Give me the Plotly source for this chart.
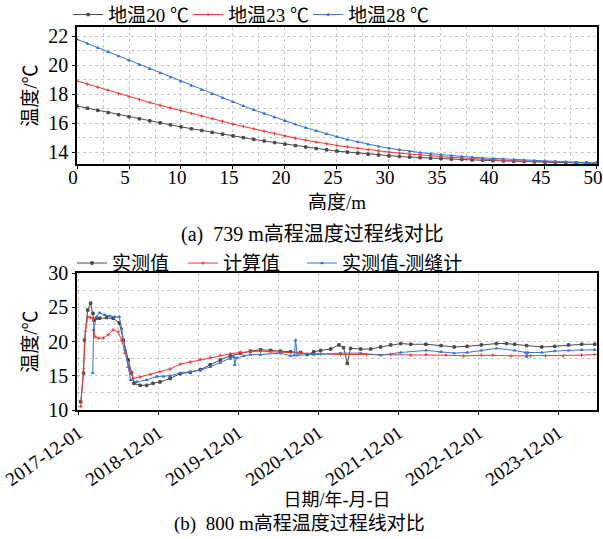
import plotly.graph_objects as go

# ---------------- Top chart data (a) ----------------
height_m = list(range(0, 51))
t20 = [17.20, 17.05, 16.90, 16.75, 16.60, 16.46, 16.32, 16.18, 16.04, 15.90,
       15.76, 15.63, 15.51, 15.38, 15.26, 15.14, 15.02, 14.90, 14.79, 14.68,
       14.57, 14.47, 14.37, 14.27, 14.18, 14.09, 14.02, 13.95, 13.88, 13.82,
       13.76, 13.72, 13.68, 13.64, 13.60, 13.57, 13.54, 13.51, 13.48, 13.46,
       13.43, 13.41, 13.39, 13.37, 13.35, 13.33, 13.31, 13.29, 13.28, 13.27, 13.26]
t23 = [18.93, 18.71, 18.49, 18.27, 18.05, 17.84, 17.64, 17.44, 17.25, 17.06,
       16.87, 16.68, 16.50, 16.32, 16.14, 15.96, 15.79, 15.62, 15.45, 15.29,
       15.13, 14.98, 14.84, 14.71, 14.59, 14.48, 14.38, 14.28, 14.19, 14.10,
       14.02, 13.95, 13.88, 13.82, 13.76, 13.71, 13.66, 13.61, 13.57, 13.53,
       13.49, 13.46, 13.43, 13.40, 13.37, 13.35, 13.33, 13.31, 13.29, 13.27, 13.26]
t28 = [21.80, 21.51, 21.22, 20.93, 20.64, 20.35, 20.06, 19.77, 19.48, 19.19,
       18.90, 18.61, 18.32, 18.04, 17.76, 17.48, 17.21, 16.94, 16.68, 16.43,
       16.18, 15.94, 15.71, 15.49, 15.28, 15.08, 14.89, 14.72, 14.56, 14.42,
       14.29, 14.18, 14.08, 13.99, 13.91, 13.84, 13.78, 13.72, 13.67, 13.62,
       13.58, 13.54, 13.50, 13.47, 13.44, 13.41, 13.38, 13.35, 13.32, 13.30, 13.28]
top_names = ["地温20 ℃", "地温23 ℃", "地温28 ℃"]

# ---------------- Bottom chart data (b) ----------------
meas_dates = ["2017-12-11", "2017-12-24", "2017-12-28", "2018-01-12", "2018-01-25", "2018-02-05",
              "2018-02-10", "2018-02-21", "2018-03-08", "2018-04-08", "2018-05-08", "2018-06-05",
              "2018-06-23", "2018-07-16", "2018-07-31", "2018-08-11", "2018-09-08", "2018-10-08",
              "2018-11-06", "2018-12-08", "2019-01-23", "2019-03-10", "2019-04-25", "2019-06-10",
              "2019-07-25", "2019-09-09", "2019-10-25", "2019-12-10", "2020-01-25", "2020-03-11",
              "2020-04-26", "2020-06-10", "2020-07-26", "2020-09-10", "2020-10-10", "2020-11-09",
              "2020-12-10", "2021-01-25", "2021-03-04", "2021-03-25", "2021-04-11", "2021-04-26",
              "2021-06-11", "2021-07-27", "2021-09-10", "2021-10-26", "2021-12-11", "2022-01-26",
              "2022-04-05", "2022-06-13", "2022-08-12", "2022-10-10", "2022-12-14", "2023-02-21",
              "2023-04-08", "2023-05-15", "2023-07-09", "2023-09-16", "2023-11-14", "2024-01-16",
              "2024-03-16", "2024-05-15"]
meas_vals = [11.2, 15.4, 20.2, 24.6, 25.6, 24.1,
             23.1, 23.4, 23.4, 23.5, 23.4, 22.7,
             20.2, 17.3, 15.4, 13.9, 13.6, 13.6,
             13.9, 14.1, 14.6, 15.3, 15.5, 15.9,
             16.6, 17.3, 17.9, 18.3, 18.6, 18.8,
             18.7, 18.6, 18.5, 18.4, 18.1, 18.5,
             18.7, 18.9, 19.5, 19.1, 16.8, 19.0,
             18.9, 18.9, 19.2, 19.5, 19.7, 19.6,
             19.6, 19.4, 19.2, 19.3, 19.5, 19.7,
             19.7, 19.6, 19.4, 19.2, 19.3, 19.5,
             19.6, 19.6]

calc_dates = ["2017-12-11", "2017-12-24", "2018-01-02", "2018-01-12", "2018-01-25", "2018-02-05",
              "2018-02-14", "2018-03-01", "2018-03-24", "2018-04-16", "2018-05-08", "2018-05-31",
              "2018-06-16", "2018-07-01", "2018-07-24", "2018-08-08", "2018-09-08", "2018-10-24",
              "2018-12-08", "2019-01-23", "2019-03-10", "2019-04-25", "2019-06-10", "2019-07-25",
              "2019-09-09", "2019-10-25", "2019-12-10", "2020-01-25", "2020-03-11", "2020-04-26",
              "2020-06-10", "2020-09-10", "2020-12-10", "2021-03-11", "2021-07-08", "2021-10-26",
              "2022-01-26", "2022-04-05", "2022-07-05", "2022-09-25", "2022-12-14", "2023-02-05",
              "2023-04-28", "2023-07-27", "2023-10-03", "2023-12-23", "2024-03-15", "2024-05-15"]
calc_vals = [10.5, 16.0, 21.5, 23.6, 23.5, 23.4,
             20.7, 20.5, 20.5, 21.0, 21.7, 21.4,
             20.2, 18.3, 15.8, 14.6, 14.8, 15.2,
             15.6, 16.0, 16.7, 17.0, 17.4, 17.7,
             18.0, 18.2, 18.4, 18.55, 18.6, 18.5,
             18.4, 18.3, 18.2, 18.1, 18.1, 18.1,
             18.0, 18.1, 18.0, 17.9, 18.0, 18.0,
             17.9, 17.9, 17.9, 17.9, 18.0, 18.1]

gauge_dates = ["2018-02-04", "2018-02-08", "2018-02-21", "2018-03-08", "2018-03-30", "2018-04-24",
               "2018-05-15", "2018-06-05", "2018-06-16", "2018-07-01", "2018-07-16", "2018-07-27",
               "2018-08-24", "2018-10-08", "2018-11-23", "2018-12-24", "2019-01-23", "2019-03-10",
               "2019-04-25", "2019-06-10", "2019-07-25", "2019-09-09", "2019-10-25", "2019-11-10",
               "2019-11-14", "2019-11-22", "2019-12-25", "2020-01-25", "2020-03-11", "2020-06-10",
               "2020-07-26", "2020-08-13", "2020-08-18", "2020-08-26", "2020-11-09", "2021-03-11",
               "2021-06-11", "2021-09-10", "2021-12-11", "2022-04-05", "2022-06-13", "2022-08-12",
               "2022-10-10", "2022-12-14", "2023-02-21", "2023-05-15", "2023-07-04", "2023-07-09",
               "2023-07-14", "2023-09-16", "2023-11-14", "2024-01-16", "2024-03-16", "2024-05-15"]
gauge_vals = [15.4, 21.7, 23.6, 24.2, 23.9, 23.7,
              23.6, 23.6, 21.9, 18.8, 16.3, 14.4,
              14.1, 14.4, 14.9, 14.9, 15.0, 15.4,
              15.6, 15.8, 16.3, 16.9, 17.5, 17.8,
              16.6, 17.6, 17.9, 18.1, 18.1, 18.3,
              17.9, 18.0, 20.2, 18.0, 18.1, 18.3,
              18.3, 18.0, 18.4, 18.7, 18.5, 18.3,
              18.4, 18.7, 19.0, 18.7, 18.4, 17.8,
              18.4, 18.4, 18.6, 18.7, 18.8, 18.8]
bottom_names = ["实测值", "计算值", "实测值-测缝计"]

date_ticks = ["2017-12-01", "2018-12-01", "2019-12-01", "2020-12-01",
              "2021-12-01", "2022-12-01", "2023-12-01"]
height_ticks = [0, 5, 10, 15, 20, 25, 30, 35, 40, 45, 50]

# ---------------- Styling ----------------
NUMFONT = "Liberation Serif"
FONT = "Liberation Serif, Noto Sans CJK SC"
GRAY = "#4a4a4a"
RED = "#f23a3a"
BLUE = "#3674d4"
GRID = "#c8c8c8"

fig = go.Figure()

top_series = [(t20, GRAY, "square"), (t23, RED, "cross-thin"), (t28, BLUE, "triangle-up")]
for (vals, col, sym), name in zip(top_series, top_names):
    fig.add_trace(go.Scatter(
        x=height_m, y=vals, name=name, mode="lines+markers",
        line=dict(color=col, width=1),
        marker=dict(symbol=sym, size=2.5, color=col, line=dict(color=col, width=1)),
        xaxis="x", yaxis="y", legend="legend"))

bottom_series = [(meas_dates, meas_vals, GRAY, "square", "legend2"),
                 (calc_dates, calc_vals, RED, "cross-thin", "legend3"),
                 (gauge_dates, gauge_vals, BLUE, "triangle-up", "legend4")]
for (d, v, col, sym, leg), name in zip(bottom_series, bottom_names):
    fig.add_trace(go.Scatter(
        x=d, y=v, name=name, mode="lines+markers",
        line=dict(color=col, width=1),
        marker=dict(symbol=sym, size=2.5, color=col, line=dict(color=col, width=1)),
        xaxis="x2", yaxis="y2", legend=leg))

axis_common = dict(showline=True, linecolor="black", linewidth=1.5, mirror=True,
                   showgrid=True, gridcolor=GRID, griddash="dot", gridwidth=1,
                   zeroline=False, ticks="outside", ticklen=3, tickcolor="black",
                   automargin=False, ticklabeloverflow="allow",
                   tickfont=dict(family=NUMFONT, size=20, color="black"))

leg_common = dict(orientation="h", xanchor="left", yanchor="top",
                  font=dict(family=FONT, size=19), itemwidth=30,
                  bgcolor="rgba(0,0,0,0)")

fig.update_layout(
    width=603, height=539,
    margin=dict(l=0, r=0, t=0, b=0, autoexpand=False),
    paper_bgcolor="white", plot_bgcolor="white",
    font=dict(family=FONT, size=19, color="black"),
    xaxis=dict(domain=[0.1277, 0.990], anchor="y", range=[0, 50],
               tickvals=height_ticks, ticklabelstandoff=-8, ticklabelshift=-4,
               minor=dict(dtick=2.5, showgrid=True, gridcolor=GRID, griddash="dot", ticks=""),
               title=dict(text="高度/m", font=dict(family=FONT, size=19), standoff=9),
               **{**axis_common, "tickfont": dict(family=NUMFONT, size=19, color="black")}),
    yaxis=dict(domain=[0.6957, 0.9499], anchor="x", range=[13.2, 22.65], dtick=2,
               tick0=14,
               minor=dict(dtick=1, showgrid=True, gridcolor=GRID, griddash="dot", ticks=""),
               title=dict(text="温度/℃", font=dict(family=FONT, size=19), standoff=6),
               **axis_common),
    xaxis2=dict(domain=[0.1277, 0.990], anchor="y2", type="date",
                range=["2017-11-24", "2024-05-25"],
                tickvals=date_ticks, ticktext=date_ticks, tickangle=-35,
                minor=dict(dtick="M6", tick0="2017-12-01", showgrid=True, gridcolor=GRID,
                           griddash="dot", ticks=""),
                title=dict(text="日期/年-月-日", font=dict(family=FONT, size=18), standoff=3),
                **{**axis_common, "tickfont": dict(family=NUMFONT, size=19, color="black")}),
    yaxis2=dict(domain=[0.2393, 0.4935], anchor="x2", range=[10, 30], dtick=5,
                minor=dict(dtick=2.5, showgrid=True, gridcolor=GRID, griddash="dot", ticks=""),
                title=dict(text="温度/℃", font=dict(family=FONT, size=19), standoff=6),
                **axis_common),
    legend=dict(x=0.113, y=1.008, entrywidth=75, **leg_common),
    legend2=dict(x=0.1194, y=0.547, **leg_common),
    legend3=dict(x=0.3035, y=0.547, **leg_common),
    legend4=dict(x=0.5008, y=0.547, **leg_common),
    showlegend=True,
)

fig.add_annotation(text="(a)  739 m高程温度过程线对比", xref="paper", yref="paper",
                   x=0.518, y=1 - 234 / 539, xanchor="center", yanchor="middle",
                   showarrow=False, font=dict(family=FONT, size=20))
fig.add_annotation(text="(b)  800 m高程温度过程线对比", xref="paper", yref="paper",
                   x=0.497, y=1 - 524 / 539, xanchor="center", yanchor="middle",
                   showarrow=False, font=dict(family=FONT, size=19))

fig.write_html("out.html")
